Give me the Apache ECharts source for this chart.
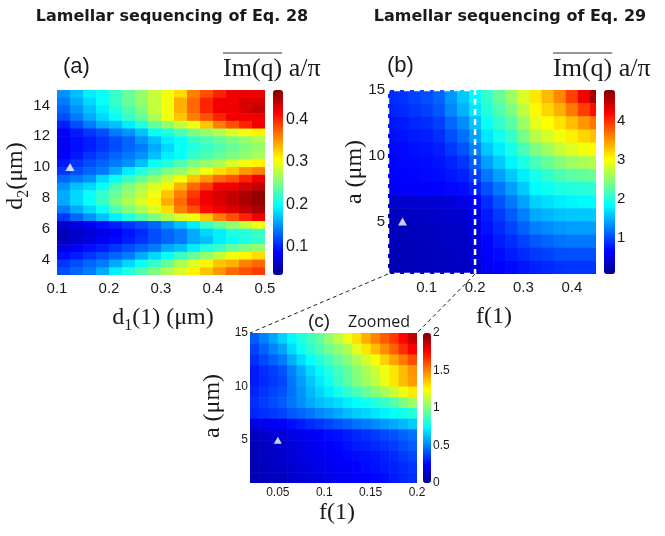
<!DOCTYPE html>
<html><head><meta charset="utf-8">
<script src="https://cdn.jsdelivr.net/npm/echarts@6/dist/echarts.min.js"></script>
<style>html,body{margin:0;padding:0;background:#fff}#c{width:665px;height:536px}</style>
</head><body><div id="c"></div>
<script>
// ---------- Panel (a): Lamellar sequencing of Eq. 28 ----------
const aX = [0.1125,0.1375,0.1625,0.1875,0.2125,0.2375,0.2625,0.2875,0.3125,0.3375,0.3625,0.3875,0.4125,0.4375,0.4625,0.4875];
const aY = [14.75,14.25,13.75,13.25,12.75,12.25,11.75,11.25,10.75,10.25,9.75,9.25,8.75,8.25,7.75,7.25,6.75,6.25,5.75,5.25,4.75,4.25,3.75,3.25];
const aV = [
 [0.15,0.17,0.19,0.20,0.22,0.24,0.26,0.28,0.30,0.32,0.36,0.38,0.40,0.42,0.42,0.42],
 [0.14,0.16,0.18,0.20,0.22,0.24,0.26,0.28,0.30,0.34,0.37,0.40,0.42,0.42,0.43,0.43],
 [0.13,0.15,0.17,0.19,0.21,0.23,0.25,0.28,0.30,0.34,0.37,0.40,0.42,0.42,0.43,0.44],
 [0.12,0.14,0.16,0.18,0.20,0.22,0.24,0.27,0.30,0.33,0.36,0.38,0.40,0.42,0.42,0.42],
 [0.10,0.12,0.14,0.16,0.17,0.19,0.21,0.24,0.26,0.28,0.30,0.33,0.36,0.38,0.40,0.42],
 [0.085,0.098,0.11,0.12,0.14,0.15,0.17,0.20,0.21,0.23,0.25,0.26,0.27,0.29,0.30,0.31],
 [0.083,0.094,0.10,0.11,0.12,0.13,0.15,0.17,0.19,0.20,0.22,0.23,0.24,0.25,0.26,0.27],
 [0.083,0.093,0.10,0.11,0.12,0.13,0.14,0.16,0.18,0.20,0.21,0.22,0.23,0.24,0.25,0.26],
 [0.087,0.097,0.11,0.12,0.13,0.14,0.15,0.17,0.19,0.20,0.22,0.23,0.24,0.25,0.26,0.27],
 [0.096,0.11,0.12,0.13,0.14,0.15,0.17,0.20,0.21,0.23,0.25,0.26,0.27,0.29,0.30,0.31],
 [0.11,0.12,0.13,0.14,0.16,0.19,0.21,0.23,0.25,0.26,0.28,0.30,0.32,0.33,0.35,0.36],
 [0.13,0.14,0.15,0.18,0.20,0.22,0.24,0.26,0.28,0.30,0.33,0.35,0.37,0.38,0.40,0.42],
 [0.15,0.17,0.18,0.20,0.23,0.25,0.27,0.29,0.31,0.34,0.37,0.39,0.42,0.42,0.43,0.44],
 [0.16,0.18,0.20,0.22,0.24,0.26,0.28,0.30,0.33,0.36,0.39,0.42,0.43,0.44,0.45,0.46],
 [0.16,0.18,0.20,0.22,0.25,0.27,0.29,0.31,0.34,0.37,0.40,0.42,0.43,0.44,0.45,0.46],
 [0.14,0.16,0.18,0.20,0.23,0.25,0.27,0.29,0.32,0.36,0.38,0.41,0.42,0.43,0.44,0.45],
 [0.11,0.13,0.15,0.17,0.19,0.21,0.23,0.25,0.27,0.29,0.30,0.33,0.36,0.38,0.40,0.42],
 [0.062,0.072,0.083,0.093,0.10,0.11,0.12,0.13,0.15,0.17,0.19,0.22,0.24,0.26,0.28,0.30],
 [0.051,0.060,0.067,0.076,0.084,0.094,0.105,0.12,0.13,0.14,0.16,0.18,0.19,0.21,0.21,0.22],
 [0.056,0.064,0.073,0.081,0.091,0.10,0.11,0.12,0.13,0.14,0.16,0.17,0.19,0.20,0.21,0.22],
 [0.074,0.084,0.093,0.10,0.11,0.12,0.13,0.14,0.16,0.17,0.19,0.21,0.22,0.24,0.25,0.26],
 [0.092,0.10,0.11,0.12,0.13,0.14,0.16,0.18,0.20,0.22,0.24,0.26,0.28,0.30,0.31,0.32],
 [0.11,0.12,0.13,0.14,0.16,0.18,0.20,0.22,0.24,0.27,0.29,0.31,0.33,0.34,0.36,0.37],
 [0.12,0.13,0.14,0.16,0.19,0.21,0.23,0.25,0.27,0.29,0.31,0.33,0.35,0.37,0.38,0.39]
];
const aMarker = [[0.125, 10]];
const aXTicks = [0.1,0.2,0.3,0.4,0.5];
const aYTicks = [4,6,8,10,12,14];
const aBarTicks = [0.1,0.2,0.3,0.4];
const aRange = [0.033, 0.469];

// ---------- Panel (b): Lamellar sequencing of Eq. 29 ----------
const bX = [0.025,0.05,0.075,0.1,0.125,0.15,0.175,0.2,0.225,0.25,0.275,0.3,0.325,0.35,0.375,0.4,0.425,0.45];
const bY = [14.5,13.5,12.5,11.5,10.5,9.5,8.5,7.5,6.5,5.5,4.5,3.5,2.5,1.5];
const bV = [
 [0.85,0.88,0.95,1.01,1.12,1.35,1.58,1.82,2.08,2.32,2.56,2.84,3.13,3.34,3.57,3.90,4.25,4.60],
 [0.81,0.84,0.89,0.95,1.05,1.27,1.48,1.73,2.00,2.21,2.41,2.72,3.05,3.21,3.39,3.64,3.91,4.15],
 [0.75,0.77,0.82,0.86,0.95,1.13,1.31,1.56,1.88,2.07,2.25,2.56,2.89,3.02,3.15,3.32,3.51,3.65],
 [0.71,0.73,0.76,0.79,0.86,1.01,1.16,1.41,1.73,1.91,2.09,2.39,2.69,2.82,2.96,3.09,3.21,3.30],
 [0.68,0.69,0.72,0.74,0.78,0.90,1.03,1.25,1.57,1.76,1.94,2.17,2.41,2.57,2.75,2.87,2.96,3.03],
 [0.67,0.68,0.69,0.70,0.73,0.81,0.89,1.09,1.39,1.59,1.79,1.97,2.16,2.30,2.45,2.55,2.61,2.67],
 [0.65,0.66,0.67,0.68,0.70,0.75,0.79,0.94,1.20,1.39,1.58,1.76,1.94,2.06,2.18,2.25,2.29,2.33],
 [0.61,0.62,0.63,0.65,0.66,0.68,0.70,0.81,1.02,1.20,1.38,1.59,1.82,1.89,1.96,1.99,2.01,2.03],
 [0.38,0.39,0.40,0.42,0.43,0.46,0.50,0.63,0.86,1.03,1.21,1.40,1.61,1.68,1.75,1.79,1.81,1.82],
 [0.32,0.33,0.34,0.36,0.37,0.40,0.42,0.55,0.77,0.92,1.07,1.24,1.43,1.49,1.55,1.58,1.58,1.59],
 [0.29,0.30,0.32,0.33,0.34,0.36,0.38,0.50,0.72,0.84,0.96,1.10,1.24,1.30,1.36,1.38,1.38,1.38],
 [0.28,0.29,0.30,0.32,0.33,0.35,0.36,0.48,0.67,0.77,0.86,0.96,1.06,1.12,1.18,1.20,1.20,1.20],
 [0.26,0.27,0.29,0.30,0.32,0.33,0.35,0.45,0.64,0.70,0.77,0.84,0.91,0.95,1.00,1.01,1.01,1.01],
 [0.25,0.26,0.28,0.29,0.31,0.33,0.34,0.43,0.59,0.65,0.69,0.75,0.80,0.84,0.88,0.89,0.89,0.89]
];
const bMarker = [[0.05, 5]];
const bZoomBox = [[0.02,1],[0.02,15],[0.2,15],[0.2,1],[0.02,1]];
const bXTicks = [0.1,0.2,0.3,0.4];
const bYTicks = [5,10,15];
const bBarTicks = [1,2,3,4];
const bRange = [0.06, 4.79];

// ---------- Panel (c): zoomed region of (b) ----------
const cX = [0.025,0.035,0.045,0.055,0.065,0.075,0.085,0.095,0.105,0.115,0.125,0.135,0.145,0.155,0.165,0.175,0.185,0.195];
const cY = [14.5,13.5,12.5,11.5,10.5,9.5,8.5,7.5,6.5,5.5,4.5,3.5,2.5,1.5];
const cV = [
 [0.43,0.50,0.57,0.66,0.74,0.81,0.87,0.94,1.03,1.12,1.21,1.31,1.41,1.49,1.57,1.64,1.74,1.86],
 [0.38,0.44,0.51,0.57,0.68,0.77,0.84,0.90,0.97,1.03,1.09,1.19,1.30,1.38,1.47,1.56,1.66,1.76],
 [0.34,0.39,0.44,0.49,0.59,0.68,0.76,0.82,0.88,0.95,1.01,1.08,1.16,1.24,1.34,1.43,1.51,1.60],
 [0.30,0.34,0.37,0.41,0.50,0.59,0.68,0.74,0.81,0.88,0.94,1.01,1.08,1.15,1.22,1.30,1.38,1.46],
 [0.30,0.33,0.36,0.39,0.48,0.56,0.64,0.71,0.78,0.86,0.93,1.00,1.06,1.12,1.21,1.30,1.38,1.44],
 [0.32,0.35,0.38,0.41,0.47,0.54,0.61,0.67,0.72,0.78,0.84,0.89,0.95,1.01,1.07,1.14,1.22,1.29],
 [0.34,0.37,0.40,0.43,0.48,0.53,0.58,0.62,0.65,0.68,0.72,0.75,0.78,0.82,0.86,0.92,0.99,1.06],
 [0.32,0.34,0.36,0.38,0.42,0.45,0.48,0.52,0.55,0.58,0.62,0.65,0.67,0.70,0.73,0.76,0.79,0.82],
 [0.19,0.21,0.23,0.24,0.27,0.30,0.33,0.35,0.38,0.41,0.44,0.47,0.49,0.52,0.55,0.58,0.61,0.65],
 [0.11,0.13,0.15,0.16,0.18,0.21,0.23,0.25,0.27,0.28,0.30,0.32,0.34,0.36,0.39,0.41,0.44,0.47],
 [0.09,0.11,0.13,0.14,0.16,0.19,0.21,0.23,0.25,0.26,0.28,0.30,0.31,0.33,0.35,0.37,0.40,0.43],
 [0.09,0.11,0.13,0.14,0.16,0.18,0.19,0.21,0.23,0.24,0.26,0.27,0.28,0.29,0.31,0.33,0.36,0.39],
 [0.09,0.10,0.12,0.13,0.15,0.17,0.18,0.20,0.21,0.23,0.24,0.25,0.27,0.28,0.30,0.31,0.33,0.35],
 [0.09,0.10,0.11,0.12,0.14,0.16,0.17,0.19,0.20,0.22,0.23,0.24,0.25,0.26,0.27,0.30,0.32,0.34]
];
const cMarker = [[0.05, 5]];
const cXTicks = [0.05,0.1,0.15,0.2];
const cYTicks = [5,10,15];
const cBarTicks = [0,0.5,1,1.5,2];
const cRange = [0, 2];

// MATLAB "jet" colormap
const jet = ['#00008f','#0000ff','#0080ff','#00ffff','#80ff80','#ffff00','#ff8000','#ff0000','#800000'];

function toCells(xs, ys, rows) {
  const out = [];
  rows.forEach((row, r) => row.forEach((v, c) => out.push([xs[c], ys[r], v])));
  return out;
}
function cellSeries(idx, data, dx, dy) {
  return {
    type: 'custom', xAxisIndex: idx, yAxisIndex: idx, data: data, silent: true,
    dimensions: ['x', 'y', 'v'], encode: { x: 0, y: 1 },
    renderItem: function (params, api) {
      const cs = params.coordSys;
      const x = api.value(0), y = api.value(1);
      const p1 = api.coord([x - dx / 2, y + dy / 2]);
      const p2 = api.coord([x + dx / 2, y - dy / 2]);
      const x0 = Math.max(p1[0], cs.x), x1 = Math.min(p2[0] + 0.6, cs.x + cs.width);
      const y0 = Math.max(p1[1], cs.y), y1 = Math.min(p2[1] + 0.6, cs.y + cs.height);
      return { type: 'rect', shape: { x: x0, y: y0, width: x1 - x0, height: y1 - y0 },
               style: { fill: api.visual('color') } };
    }
  };
}
const TXT = '#1a1a1a';
function valAxis(idx, min, max, ticks, fs, margin, extra) {
  return Object.assign({
    gridIndex: idx, type: 'value', min: min, max: max,
    axisLabel: { customValues: ticks, fontSize: fs, margin: margin, color: TXT, fontFamily: 'Liberation Sans' },
    axisTick: { show: false }, axisLine: { show: false }, splitLine: { show: false }
  }, extra || {});
}
function hiddenAxis(idx) {
  return { gridIndex: idx, type: 'value', show: false, min: 0, max: 1, splitLine: { show: false } };
}

const chart = echarts.init(document.getElementById('c'));
const g = (l, t, w, h) => ({ left: l, top: t, width: w, height: h, containLabel: false, outerBoundsMode: 'none' });

chart.setOption({
  animation: false,
  backgroundColor: '#fff',
  grid: [g(57, 90, 208, 185), g(388, 90, 208, 184), g(250, 333, 167, 150),
         g(273, 90, 10, 185), g(604, 90, 11, 184), g(423, 333, 8, 150)],
  xAxis: [
    valAxis(0, 0.1, 0.5, aXTicks, 15, 6),
    valAxis(1, 0.02, 0.45, bXTicks, 15, 6),
    valAxis(2, 0.02, 0.2, cXTicks, 12, 4),
    hiddenAxis(3), hiddenAxis(4), hiddenAxis(5)
  ],
  yAxis: [
    valAxis(0, 3, 15, aYTicks, 15, 7),
    valAxis(1, 1, 15, bYTicks, 15, 3),
    valAxis(2, 1, 15, cYTicks, 12, 2),
    valAxis(3, aRange[0], aRange[1], aBarTicks, 16, 3, { position: 'right' }),
    valAxis(4, bRange[0], bRange[1], bBarTicks, 15, 2, { position: 'right' }),
    valAxis(5, cRange[0], cRange[1], cBarTicks, 12, 2, { position: 'right' })
  ],
  visualMap: [
    { type: 'continuous', seriesIndex: 0, dimension: 2, min: aRange[0], max: aRange[1], inRange: { color: jet },
      calculable: false, left: 273, top: 90, itemWidth: 10, itemHeight: 185, padding: 0, text: null },
    { type: 'continuous', seriesIndex: 1, dimension: 2, min: bRange[0], max: bRange[1], inRange: { color: jet },
      calculable: false, left: 604, top: 90, itemWidth: 11, itemHeight: 184, padding: 0, text: null },
    { type: 'continuous', seriesIndex: 2, dimension: 2, min: cRange[0], max: cRange[1], inRange: { color: jet },
      calculable: false, left: 423, top: 333, itemWidth: 8, itemHeight: 150, padding: 0, text: null }
  ],
  series: [
    cellSeries(0, toCells(aX, aY, aV), 0.025, 0.5),
    cellSeries(1, toCells(bX, bY, bV), 0.025, 1),
    cellSeries(2, toCells(cX, cY, cV), 0.01, 1),
    { type: 'scatter', xAxisIndex: 0, yAxisIndex: 0, data: aMarker, symbol: 'triangle', symbolSize: [9, 8], itemStyle: { color: '#fff' }, z: 5, silent: true },
    { type: 'scatter', xAxisIndex: 1, yAxisIndex: 1, data: bMarker, symbol: 'triangle', symbolSize: [9, 8], itemStyle: { color: '#fff' }, z: 5, silent: true },
    { type: 'scatter', xAxisIndex: 2, yAxisIndex: 2, data: cMarker, symbol: 'triangle', symbolSize: [8, 7], itemStyle: { color: '#fff' }, z: 5, silent: true },
    { type: 'line', xAxisIndex: 1, yAxisIndex: 1, data: bZoomBox, symbol: 'none', clip: false, z: 6, silent: true,
      lineStyle: { color: '#fff', width: 2.5, type: [6, 4] } }
  ]
});

// ---------- annotations ----------
const ctx = document.createElement('canvas').getContext('2d');
const IMFONT = '26px "Liberation Serif"';
ctx.font = IMFONT;
const imW = ctx.measureText('Im(q)').width;

const pB0 = chart.convertToPixel({ gridIndex: 1 }, [0.02, 1]);
const pB1 = chart.convertToPixel({ gridIndex: 1 }, [0.2, 1]);
const pC0 = chart.convertToPixel({ gridIndex: 2 }, [0.02, 15]);
const pC1 = chart.convertToPixel({ gridIndex: 2 }, [0.2, 15]);

const serifRich = {
  n: { font: '24px "Liberation Serif"', fill: TXT },
  s: { font: '16px "Liberation Serif"', fill: TXT, padding: [16, 0, 0, 0] }
};
function txt(x, y, text, font, align, extra) {
  return Object.assign({ type: 'text', x: x, y: y, z: 100, silent: true,
    style: { text: text, font: font, fill: TXT, align: align || 'left', verticalAlign: 'middle' } }, extra || {});
}
function richTxt(x, y, text, rot) {
  return { type: 'text', x: x, y: y, rotation: rot || 0, z: 100, silent: true,
    style: { text: text, rich: serifRich, align: 'center', verticalAlign: 'middle', fill: TXT } };
}
function dash(p, q) {
  return { type: 'line', z: 100, silent: true, shape: { x1: p[0], y1: p[1], x2: q[0], y2: q[1] },
    style: { stroke: '#222', lineWidth: 1, lineDash: [4, 3] } };
}
function overline(x, y) {
  return { type: 'line', z: 100, silent: true, shape: { x1: x, y1: y, x2: x + imW, y2: y },
    style: { stroke: '#333', lineWidth: 1.2 } };
}

chart.setOption({
  graphic: [
    txt(172, 17, 'Lamellar sequencing of Eq. 28', 'bold 16px "DejaVu Sans"', 'center'),
    txt(510, 17, 'Lamellar sequencing of Eq. 29', 'bold 16px "DejaVu Sans"', 'center'),
    txt(63, 67, '(a)', '22px "Liberation Sans"'),
    txt(223, 69, 'Im(q) a/π', IMFONT),
    overline(223, 53),
    txt(387, 66, '(b)', '22px "Liberation Sans"'),
    txt(553, 69, 'Im(q) a/π', IMFONT),
    overline(553, 53),
    txt(308, 322, '(c)', '19px "Liberation Sans"'),
    txt(348, 322, 'Zoomed', '16px "Open Sans"'),
    richTxt(163, 318, '{n|d}{s|1}{n|(1) (μm)}'),
    richTxt(16, 176, '{n|d}{s|2}{n|(μm)}', Math.PI / 2),
    richTxt(355, 172, '{n|a (μm)}', Math.PI / 2),
    richTxt(494, 317, '{n|f(1)}'),
    richTxt(213, 406, '{n|a (μm)}', Math.PI / 2),
    richTxt(337, 513, '{n|f(1)}'),
    dash(pB0, pC0),
    dash(pB1, pC1)
  ]
});
</script></body></html>
